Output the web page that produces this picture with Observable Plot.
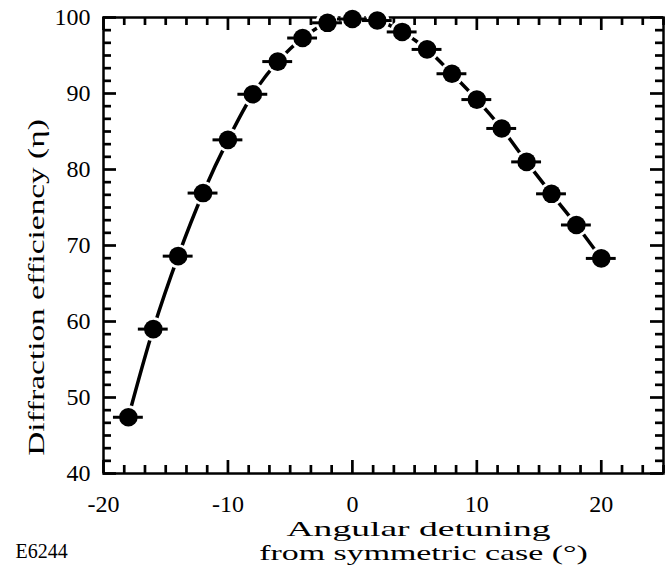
<!DOCTYPE html>
<html>
<head>
<meta charset="utf-8">
<script src="https://cdn.jsdelivr.net/npm/d3@7"></script>
<script src="https://cdn.jsdelivr.net/npm/@observablehq/plot@0.6"></script>
<style>
  body { margin: 0; background: white; }
  #chart { width: 670px; height: 581px; }
</style>
</head>
<body>
<div id="chart"></div>
<script>
// ---- data ----
const angles = [-18, -16, -14, -12, -10, -8, -6, -4, -2, 0, 2, 4, 6, 8, 10, 12, 14, 16, 18, 20];
const efficiency = [47.4, 59.0, 68.6, 76.9, 83.9, 89.9, 94.2, 97.3, 99.3, 99.8, 99.6, 98.1, 95.8, 92.6, 89.2, 85.4, 81.0, 76.8, 72.7, 68.3];
const angleError = [1.2, 1.2, 1.2, 1.2, 1.2, 1.2, 1.2, 1.2, 1.2, 1.2, 1.2, 1.2, 1.2, 1.2, 1.2, 1.2, 1.2, 1.2, 1.2, 1.2];
const xTickLabels = [-20, -10, 0, 10, 20];
const yTickLabels = [40, 50, 60, 70, 80, 90, 100];
const xDomain = [-20, 25];
const yDomain = [40, 100];
const minorStep = 10 / 6;

// ---- layout ----
const W = 670, H = 581;
const mT = 17, mL = 103, mR = 7, mB = 108;
const innerW = W - mL - mR, innerH = H - mT - mB;
const majLen = 13, minLen = 8;

const data = angles.map((a, i) => ({a, e: efficiency[i], err: angleError[i]}));
const isMajor = v => Math.abs(v / 10 - Math.round(v / 10)) < 1e-6;
const xAll = d3.range(0, Math.round((xDomain[1] - xDomain[0]) / minorStep) + 1).map(k => xDomain[0] + k * minorStep);
const yAll = d3.range(0, Math.round((yDomain[1] - yDomain[0]) / minorStep) + 1).map(k => yDomain[0] + k * minorStep);
const xMinor = xAll.filter(v => !isMajor(v));
const yMinor = yAll.filter(v => !isMajor(v));

const tickW = 2.7;
const plot = Plot.plot({
  width: W, height: H,
  marginTop: mT, marginLeft: mL, marginRight: mR, marginBottom: mB,
  style: {fontFamily: '"Liberation Serif", "Times New Roman", serif', background: "white", color: "black"},
  x: {domain: xDomain},
  y: {domain: yDomain},
  marks: [
    Plot.axisX({ticks: xTickLabels, tickSize: 0, tickPadding: 21, fontSize: 24, tickFormat: d => String(d), label: null}),
    Plot.axisY({ticks: yTickLabels, tickSize: 0, tickPadding: 13, fontSize: 24, tickFormat: d => String(d), label: null}),
    Plot.frame({stroke: "black", strokeWidth: 2.5}),
    // inward ticks: bottom, top, left, right
    Plot.tickX(xTickLabels, {x: d => d, insetTop: innerH - majLen, strokeWidth: tickW}),
    Plot.tickX(xMinor, {x: d => d, insetTop: innerH - minLen, strokeWidth: tickW}),
    Plot.tickX(xTickLabels, {x: d => d, insetBottom: innerH - majLen, strokeWidth: tickW}),
    Plot.tickX(xMinor, {x: d => d, insetBottom: innerH - minLen, strokeWidth: tickW}),
    Plot.tickY(yTickLabels, {y: d => d, insetRight: innerW - majLen, strokeWidth: tickW}),
    Plot.tickY(yMinor, {y: d => d, insetRight: innerW - minLen, strokeWidth: tickW}),
    Plot.tickY(yTickLabels, {y: d => d, insetLeft: innerW - majLen, strokeWidth: tickW}),
    Plot.tickY(yMinor, {y: d => d, insetLeft: innerW - minLen, strokeWidth: tickW}),
    // fitted curve
    Plot.line(data, {x: "a", y: "e", curve: "catmull-rom", stroke: "black", strokeWidth: 3.5}),
    // white halo around points (gives the dashed look)
    Plot.dot(data, {x: "a", y: "e", r: 12, fill: "white", stroke: "none"}),
    // horizontal error bars
    Plot.ruleY(data, {x1: d => d.a - d.err, x2: d => d.a + d.err, y: "e", stroke: "black", strokeWidth: 3}),
    // points
    Plot.dot(data, {x: "a", y: "e", r: 9.3, fill: "black", stroke: "none"}),
    // labels
    Plot.text(["Diffraction efficiency (\u03b7)"], {text: d => d, frameAnchor: "left", textAnchor: "middle", rotate: -90, dx: -60, dy: 42, lineAnchor: "bottom", fontSize: 24, fill: "black"}),
    Plot.text(["Angular detuning"], {text: d => d, frameAnchor: "bottom", textAnchor: "middle", dx: 35, dy: 62, lineAnchor: "bottom", fontSize: 22, fill: "black"}),
    Plot.text(["from symmetric case (\u00b0)"], {text: d => d, frameAnchor: "bottom", textAnchor: "middle", dx: 40, dy: 86.5, lineAnchor: "bottom", fontSize: 22, fill: "black"}),
    Plot.text(["E6244"], {text: d => d, frameAnchor: "bottom-left", textAnchor: "start", dx: -88, dy: 84, lineAnchor: "bottom", fontSize: 20, fill: "black"})
  ]
});

// the original lettering is broad: stretch these labels along their reading direction
const stretch = {
  "Diffraction efficiency (\u03b7)": 1.39,
  "Angular detuning": 1.71,
  "from symmetric case (\u00b0)": 1.54
};
d3.select(plot).selectAll("text").each(function () {
  const s = stretch[this.textContent];
  if (!s) return;
  const t = this.getAttribute("transform") || "";
  const x = +this.getAttribute("x") || 0, y = +this.getAttribute("y") || 0;
  this.setAttribute("transform", `${t} translate(${x},${y}) scale(${s},1) translate(${-x},${-y})`);
});
document.getElementById("chart").appendChild(plot);
</script>
</body>
</html>
